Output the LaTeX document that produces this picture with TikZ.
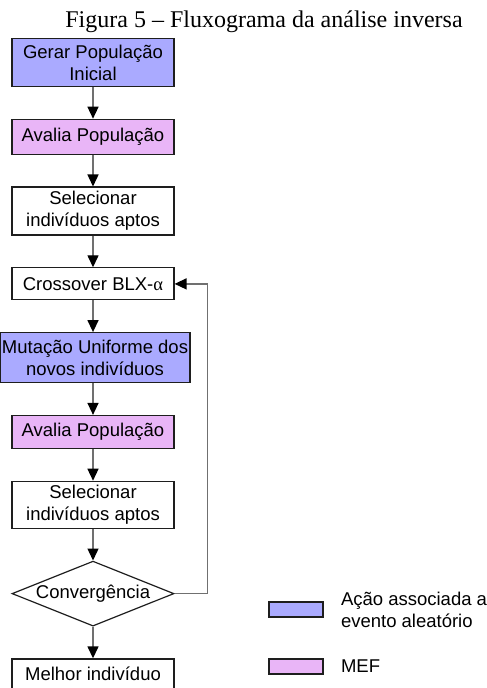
\documentclass[tikz,border=0pt]{standalone}
\usepackage{fontspec}
\setmainfont{Liberation Serif}
\setsansfont{Liberation Sans}
\usetikzlibrary{arrows.meta,positioning,shapes.geometric}
\definecolor{gaazul}{HTML}{AAAAFF}
\definecolor{gamef}{HTML}{E9B5F7}
\definecolor{gaborda}{HTML}{1E1E1E}
\definecolor{gaseta}{HTML}{707070}

\begin{document}
\begin{tikzpicture}[
  node distance=15.8pt,
  box/.style={draw=gaborda, line width=0.6pt, align=center, font=\sffamily\fontsize{9.25}{11}\selectfont, minimum width=81pt, minimum height=16.5pt, inner sep=1pt, fill=white},
  dupla/.style={box, minimum height=24pt},
  alea/.style={fill=gaazul},
  mef/.style={fill=gamef},
  decisao/.style={box, diamond, aspect=2.5, inner sep=0pt, minimum height=32.5pt},
  arrow/.style={-{Triangle[length=6pt,width=5.5pt,color=black]}, line width=0.7pt, draw=gaseta},
  legbox/.style={draw=gaborda, line width=0.6pt, minimum width=27pt, minimum height=7.5pt, inner sep=0pt},
  legtxt/.style={font=\sffamily\fontsize{9.25}{11}\selectfont, align=left, inner sep=0pt, anchor=west}
]
\useasboundingbox (0,0) rectangle (243pt,-344pt);
\node[anchor=base, font=\fontsize{12}{14}\selectfont] (title) at (132pt,-14pt) {Figura 5 – Fluxograma da análise inversa};

% coluna principal
\node[dupla, alea] (gerar) at (46.5pt,-31.25pt) {Gerar População\\Inicial};
\node[box, mef, minimum height=17.5pt, below=of gerar] (avalia1) {Avalia População};
\node[dupla, below=of avalia1] (selec1) {Selecionar\\indivíduos aptos};
\node[box, minimum height=16pt, below=of selec1] (cross) {Crossover BLX-{\rmfamily α}};
\node[dupla, alea, minimum width=93pt, minimum height=25pt, below=of cross, xshift=1pt] (mutacao) {Mutação Uniforme dos\\novos indivíduos};
\node[box, mef, below=of mutacao, xshift=-1pt] (avalia2) {Avalia População};
\node[dupla, minimum height=23.5pt, below=of avalia2] (selec2) {Selecionar\\indivíduos aptos};
\node[decisao, below=of selec2] (conv) {Convergência};
\node[box, minimum height=15pt, below=of conv] (melhor) {Melhor indivíduo};

\draw[arrow] (gerar) -- (avalia1);
\draw[arrow] (avalia1) -- (selec1);
\draw[arrow] (selec1) -- (cross);
\draw[arrow] (cross) -- (cross |- mutacao.north);
\draw[arrow] (avalia2 |- mutacao.south) -- (avalia2);
\draw[arrow] (avalia2) -- (selec2);
\draw[arrow] (selec2) -- (conv);
\draw[arrow] (conv) -- (melhor);
\draw[arrow] (conv.east) -- ++(16.5pt,0) |- (cross.east);

% legenda
\node[legbox, fill=gaazul] (legA) at (148pt,-304.75pt) {};
\node[legbox, fill=gamef] (legB) at (148pt,-333.25pt) {};
\node[legtxt, right=8.5pt of legA] (txtA) {Ação associada a\\evento aleatório};
\node[legtxt, right=8.5pt of legB] (txtB) {MEF};
\end{tikzpicture}
\end{document}
